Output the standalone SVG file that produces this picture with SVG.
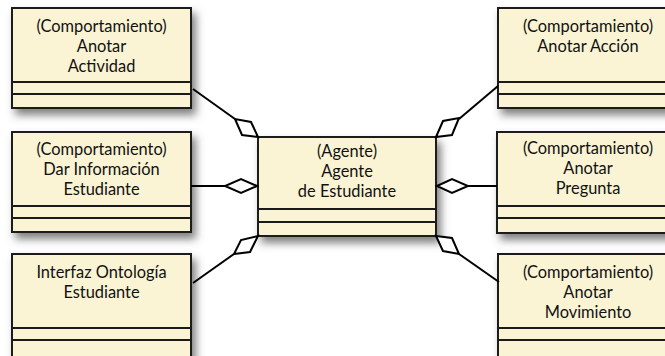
<svg xmlns="http://www.w3.org/2000/svg" width="665" height="356" viewBox="0 0 665 356">
  <defs>
    <filter id="shadow" x="-10%" y="-10%" width="130%" height="140%">
      <feGaussianBlur in="SourceAlpha" stdDeviation="4"/>
      <feOffset dx="4" dy="6" result="blur"/>
      <feFlood flood-color="#555" flood-opacity="0.75"/>
      <feComposite in2="blur" operator="in"/>
      <feMerge>
        <feMergeNode/>
        <feMergeNode in="SourceGraphic"/>
      </feMerge>
    </filter>
  </defs>
  <style>
    .box { fill: #faf4d4; stroke: #1a1a1a; stroke-width: 2; }
    .div { stroke: #1a1a1a; stroke-width: 2; fill: none; }
    .lbl { font-family: Lato, "Open Sans", sans-serif; font-size: 16.4px; fill: #111; text-anchor: middle; }
    .edge { stroke: #000; stroke-width: 2; fill: none; }
    .dia { fill: #fff; stroke: #000; stroke-width: 2; stroke-linejoin: miter; }
  </style>
  <rect width="665" height="356" fill="#fff"/>

  <!-- left column -->
  <g id="anotar-actividad">
    <rect class="box" x="12" y="8" width="179" height="100" filter="url(#shadow)"/>
    <line class="div" x1="12" y1="82" x2="191" y2="82"/>
    <line class="div" x1="12" y1="94" x2="191" y2="94"/>
    <text class="lbl" x="101.5" y="32">(Comportamiento)</text>
    <text class="lbl" x="101.5" y="52">Anotar</text>
    <text class="lbl" x="101.5" y="72">Actividad</text>
  </g>
  <g id="dar-informacion">
    <rect class="box" x="12" y="132" width="179" height="100" filter="url(#shadow)"/>
    <line class="div" x1="12" y1="206" x2="191" y2="206"/>
    <line class="div" x1="12" y1="218" x2="191" y2="218"/>
    <text class="lbl" x="101.5" y="155">(Comportamiento)</text>
    <text class="lbl" x="101.5" y="175">Dar Información</text>
    <text class="lbl" x="101.5" y="195">Estudiante</text>
  </g>
  <g id="interfaz-ontologia">
    <rect class="box" x="12" y="254" width="179" height="110" filter="url(#shadow)"/>
    <line class="div" x1="12" y1="328" x2="191" y2="328"/>
    <line class="div" x1="12" y1="340" x2="191" y2="340"/>
    <text class="lbl" x="101.5" y="278">Interfaz Ontología</text>
    <text class="lbl" x="101.5" y="298">Estudiante</text>
  </g>

  <!-- centre -->
  <g id="agente-estudiante">
    <rect class="box" x="258" y="137" width="178" height="99" filter="url(#shadow)"/>
    <line class="div" x1="258" y1="209" x2="436" y2="209"/>
    <line class="div" x1="258" y1="222" x2="436" y2="222"/>
    <text class="lbl" x="347" y="157">(Agente)</text>
    <text class="lbl" x="347" y="177">Agente</text>
    <text class="lbl" x="347" y="197">de Estudiante</text>
  </g>

  <!-- right column -->
  <g id="anotar-accion">
    <rect class="box" x="498" y="8" width="180" height="100" filter="url(#shadow)"/>
    <line class="div" x1="498" y1="82" x2="678" y2="82"/>
    <line class="div" x1="498" y1="94" x2="678" y2="94"/>
    <text class="lbl" x="588" y="32">(Comportamiento)</text>
    <text class="lbl" x="588" y="52">Anotar Acción</text>
  </g>
  <g id="anotar-pregunta">
    <rect class="box" x="497" y="132" width="181" height="101" filter="url(#shadow)"/>
    <line class="div" x1="497" y1="206" x2="678" y2="206"/>
    <line class="div" x1="497" y1="218" x2="678" y2="218"/>
    <text class="lbl" x="588" y="154">(Comportamiento)</text>
    <text class="lbl" x="588" y="174">Anotar</text>
    <text class="lbl" x="588" y="194">Pregunta</text>
  </g>
  <g id="anotar-movimiento">
    <rect class="box" x="498" y="254" width="180" height="110" filter="url(#shadow)"/>
    <line class="div" x1="498" y1="328" x2="678" y2="328"/>
    <line class="div" x1="498" y1="340" x2="678" y2="340"/>
    <text class="lbl" x="588" y="278">(Comportamiento)</text>
    <text class="lbl" x="588" y="298">Anotar</text>
    <text class="lbl" x="588" y="318">Movimiento</text>
  </g>

  <!-- aggregation connectors (hollow diamond at the agent) -->
  <g id="connectors">
    <line class="edge" x1="193" y1="89" x2="235" y2="119"/>
    <polygon class="dia" points="258,137 251,122 235,119 242,135"/>

    <line class="edge" x1="191" y1="186" x2="225" y2="186"/>
    <polygon class="dia" points="257,186 241,179 225,186 241,193"/>

    <line class="edge" x1="193" y1="283" x2="234" y2="254"/>
    <polygon class="dia" points="258,236 241,240 234,254 250,252"/>

    <line class="edge" x1="498" y1="86" x2="459" y2="119"/>
    <polygon class="dia" points="436,137 443,121 459,118 452,135"/>

    <line class="edge" x1="497" y1="186" x2="468" y2="186"/>
    <polygon class="dia" points="437,186 452,179 468,186 452,193"/>

    <line class="edge" x1="499" y1="282" x2="459" y2="254"/>
    <polygon class="dia" points="436,236 452,238 459,254 443,251"/>
  </g>
</svg>
